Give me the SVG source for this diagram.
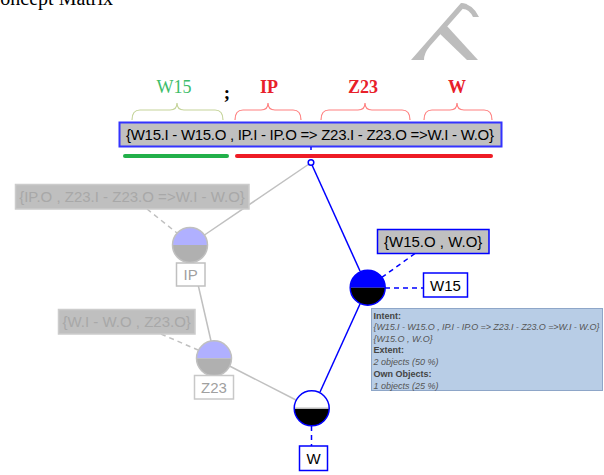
<svg xmlns="http://www.w3.org/2000/svg" width="604" height="475" viewBox="0 0 604 475">
<style>
.sans{font-family:"Liberation Sans",Arial,sans-serif}
.serif{font-family:"Liberation Serif","Times New Roman",serif}
.blue{stroke:#0000ff;stroke-width:1.5;fill:none}
.grey{stroke:#c0c0c0;stroke-width:1.5;fill:none}
.bdash{stroke:#0000ff;stroke-width:1.5;stroke-dasharray:5,4;fill:none}
.gdash{stroke:#c0c0c0;stroke-width:1.5;stroke-dasharray:5,4;fill:none}
.lbl{font-size:15px;text-anchor:middle}
.tip{font-size:9px;fill:#555}
.tipi{font-size:9px;fill:#555;font-style:italic}
.tipb{font-size:9px;fill:#444;font-weight:bold}
.wm{fill:#bdbdbd}
</style>
<rect width="604" height="475" fill="#fff"/>
<text class="serif" x="-13" y="5" font-size="20" fill="#000">Concept Matrix</text>
<g id="watermark">
<path class="wm" d="M411,60 L461,3 L467,4 L430,46 Q424,53 424,60 Z"/>
<path class="wm" d="M461,3 Q473,4 479,17 L473,17 Q469,9 463,9 Z"/>
<path class="wm" d="M437,31 L446,25 L478,60 L467,60 Z"/>
</g>

<g id="header">
<text class="serif" x="174" y="93" font-size="18" fill="#3dbd6a" text-anchor="middle">W15</text>
<text class="serif" x="227" y="99" font-size="19" font-weight="bold" fill="#000" text-anchor="middle">;</text>
<text class="serif" x="269" y="93" font-size="18" font-weight="bold" fill="#e8202a" text-anchor="middle">IP</text>
<text class="serif" x="363" y="93" font-size="18" font-weight="bold" fill="#e8202a" text-anchor="middle">Z23</text>
<text class="serif" x="457" y="93" font-size="18" font-weight="bold" fill="#e8202a" text-anchor="middle">W</text>
<path d="M132,120 Q132,110 140,110 L170,110 Q177,110 177,103 Q177,110 184,110 L215,110 Q223,110 223,120" fill="none" stroke="#c5d49a" stroke-width="1.2"/>
<path d="M235,120 Q235,110 243,110 L261,110 Q268,110 268,103 Q268,110 275,110 L293,110 Q301,110 301,120" fill="none" stroke="#ff8080" stroke-width="1.2"/>
<path d="M321,120 Q321,110 329,110 L358,110 Q365,110 365,103 Q365,110 372,110 L402,110 Q410,110 410,120" fill="none" stroke="#ff8080" stroke-width="1.2"/>
<path d="M424,120 Q424,110 432,110 L450,110 Q457,110 457,103 Q457,110 464,110 L484,110 Q492,110 492,120" fill="none" stroke="#ff8080" stroke-width="1.2"/>
<rect x="119.5" y="122.5" width="382" height="24" fill="#c0c0c0" stroke="#3333ff" stroke-width="2"/>
<text class="sans" x="126" y="139.5" font-size="15" fill="#000" textLength="368" lengthAdjust="spacing">{W15.I - W15.O , IP.I - IP.O =&gt; Z23.I - Z23.O =&gt;W.I - W.O}</text>
<line x1="125" y1="156" x2="227" y2="156" stroke="#22b04a" stroke-width="4" stroke-linecap="round"/>
<line x1="237" y1="156" x2="491" y2="156" stroke="#ee1c25" stroke-width="4" stroke-linecap="round"/>
</g>

<g id="connectors">
<line x1="311" y1="147" x2="311" y2="150" class="blue"/>
<line x1="309" y1="164" x2="203" y2="236" class="grey"/>
<line x1="193" y1="262.5" x2="211" y2="341" class="grey"/>
<line x1="229.5" y1="366" x2="296" y2="400" class="grey"/>
<line x1="312" y1="165" x2="360" y2="271" class="blue"/>
<line x1="360" y1="304" x2="320" y2="392" class="blue"/>
<line x1="311.5" y1="426" x2="311.5" y2="446" class="bdash"/>
<line x1="385" y1="288" x2="423" y2="288" class="bdash"/>
<line x1="415" y1="253.5" x2="381" y2="278" class="bdash"/>
<line x1="147" y1="209" x2="177" y2="233" class="gdash"/>
<line x1="161" y1="334" x2="198" y2="350" class="gdash"/>
</g>

<g id="node-top">
<circle cx="311" cy="162.5" r="2.8" fill="#fff" stroke="#0000ff" stroke-width="1.5"/>
</g>

<g id="node-ip">
<path d="M172.5,245 A17.5,17.5 0 0 1 207.5,245 Z" fill="#b0b0ff"/>
<path d="M172.5,245 A17.5,17.5 0 0 0 207.5,245 Z" fill="#b0b0b0"/>
<circle cx="190" cy="245" r="17.5" class="grey"/>
<rect x="176.5" y="263" width="28.5" height="23" fill="#fff" stroke="#c0c0c0" stroke-width="1.5"/>
<text class="sans lbl" x="190.7" y="280" fill="#a0a0a0">IP</text>
<rect x="15.5" y="184.5" width="233.5" height="24.5" fill="#bfbfbf" stroke="#cccccc" stroke-width="1.5"/>
<text class="sans" x="132" y="202" font-size="15" fill="#a8a8a8" text-anchor="middle">{IP.O , Z23.I  - Z23.O =&gt;W.I - W.O}</text>
</g>

<g id="node-z23">
<path d="M196.5,358.3 A17.5,17.5 0 0 1 231.5,358.3 Z" fill="#b0b0ff"/>
<path d="M196.5,358.3 A17.5,17.5 0 0 0 231.5,358.3 Z" fill="#b0b0b0"/>
<circle cx="214" cy="358.3" r="17.5" class="grey"/>
<rect x="194.5" y="375.5" width="39" height="23.5" fill="#fff" stroke="#c8c8c8" stroke-width="1.5"/>
<text class="sans lbl" x="214" y="393" fill="#a0a0a0">Z23</text>
<rect x="58.5" y="309.5" width="136.5" height="24.5" fill="#bfbfbf" stroke="#cccccc" stroke-width="1.5"/>
<text class="sans" x="126.7" y="327" font-size="15" fill="#a8a8a8" text-anchor="middle">{W.I - W.O , Z23.O}</text>
</g>

<g id="node-w15">
<path d="M350.2,287.7 A17.5,17.5 0 0 1 385.2,287.7 Z" fill="#0000ff"/>
<path d="M350.2,287.7 A17.5,17.5 0 0 0 385.2,287.7 Z" fill="#000"/>
<circle cx="367.7" cy="287.7" r="17.5" class="blue"/>
<rect x="423.5" y="273" width="44" height="24" fill="#fff" stroke="#0000ff" stroke-width="1.5"/>
<text class="sans lbl" x="445.5" y="291" fill="#000">W15</text>
<rect x="377.5" y="229.5" width="111.5" height="24" fill="#c0c0c0" stroke="#0000ff" stroke-width="1.5"/>
<text class="sans lbl" x="433.2" y="247" fill="#000">{W15.O ,  W.O}</text>
</g>

<g id="node-w">
<path d="M294.2,408.3 A17.5,17.5 0 0 1 329.2,408.3 Z" fill="#fff"/>
<path d="M294.2,408.3 A17.5,17.5 0 0 0 329.2,408.3 Z" fill="#000"/>
<line x1="294.2" y1="408.3" x2="329.2" y2="408.3" stroke="#bbbbbb" stroke-width="1.5"/>
<circle cx="311.7" cy="408.3" r="17.5" class="blue"/>
<rect x="299.5" y="446" width="28" height="24.5" fill="#fff" stroke="#0000ff" stroke-width="1.5"/>
<text class="sans lbl" x="313.5" y="464" fill="#000">W</text>
</g>

<g id="tooltip">
<rect x="371.5" y="308.5" width="231" height="82" fill="#b8cde6" stroke="#8ea6c8" stroke-width="1"/>
<text class="sans tipb" x="373.5" y="318.5">Intent:</text>
<text class="sans tipi" x="373.5" y="330" textLength="226" lengthAdjust="spacing">{W15.I - W15.O , IP.I - IP.O =&gt; Z23.I - Z23.O =&gt;W.I - W.O}</text>
<text class="sans tipi" x="373.5" y="341.5">{W15.O , W.O}</text>
<text class="sans tipb" x="373.5" y="353">Extent:</text>
<text class="sans tipi" x="373.5" y="365">2 objects (50 %)</text>
<text class="sans tipb" x="373.5" y="377">Own Objects:</text>
<text class="sans tipi" x="373.5" y="388.5">1 objects (25 %)</text>
</g>
</svg>
